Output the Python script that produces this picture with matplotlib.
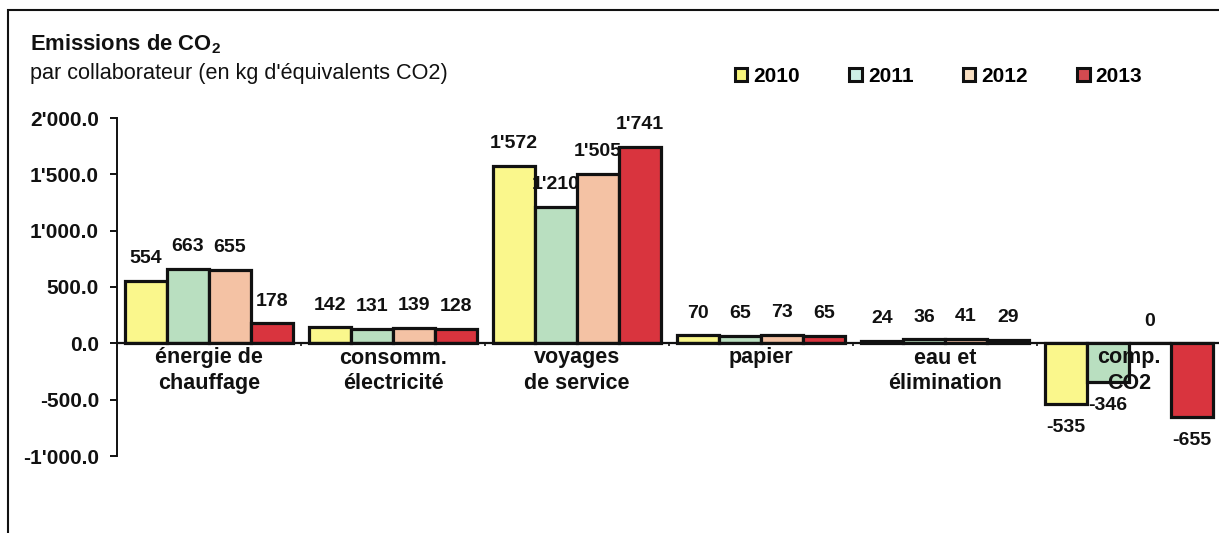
import matplotlib
matplotlib.use("Agg")
import matplotlib.pyplot as plt
from matplotlib.patches import Rectangle
from matplotlib.ticker import FuncFormatter
import numpy as np

categories = ["énergie de\nchauffage", "consomm.\nélectricité", "voyages\nde service",
              "papier", "eau et\nélimination", "comp.\nCO2"]
years = ["2010", "2011", "2012", "2013"]
v2010 = [554, 142, 1572, 70, 24, -535]
v2011 = [663, 131, 1210, 65, 36, -346]
v2012 = [655, 139, 1505, 73, 41, 0]
v2013 = [178, 128, 1741, 65, 29, -655]
series = [v2010, v2011, v2012, v2013]
colors = ["#FAF78C", "#B9DFC0", "#F4C2A4", "#D9343E"]
legend_colors = ["#F6F47A", "#CDEFE6", "#F8DEC0", "#D24A50"]

plt.rcParams['font.family'] = ['Liberation Sans', 'DejaVu Sans']
plt.rcParams['mathtext.fontset'] = 'custom'
plt.rcParams['mathtext.rm'] = 'Liberation Sans'
plt.rcParams['mathtext.bf'] = 'Liberation Sans:bold'

W, H = 1219, 533
fig = plt.figure(figsize=(W/100, H/100), dpi=100)

# axes: y axis at x=117px, 184px per group, 2000 at 118px, -1000 at 456px from top
ax = fig.add_axes([117/W, (H-456)/H, 6*184/W, 338/H])
ax.set_xlim(-0.5, 5.5)
ax.set_ylim(-1000, 2000)

x = np.arange(len(categories))
bw = 42/184
for j, (vals, c) in enumerate(zip(series, colors)):
    xs = x + (j - 1.5)*bw
    ax.bar(xs, vals, bw, color=c, edgecolor='#111111', linewidth=2.3, zorder=3)
    for xi, v in zip(xs, vals):
        txt = f"{v:,.0f}".replace(',', "'")
        off = 16 if v >= 0 else -17
        ax.annotate(txt, (xi, v), xytext=(0, off), textcoords='offset points',
                    ha='center', va='center', fontsize=14, fontweight='bold',
                    color='#111111', zorder=5)

ax.axhline(0, color='#111111', lw=1.6, zorder=4)
ax.vlines(x[1:] - 0.5, 0, -25, color='#111111', lw=1.2, zorder=4)

for xi, lab in zip(x, categories):
    ax.annotate(lab, (xi, 0), xytext=(0, -3), textcoords='offset points',
                ha='center', va='top', fontsize=15.5, fontweight='bold',
                linespacing=1.3, color='#111111', zorder=6)

for s in ['top', 'right', 'bottom']:
    ax.spines[s].set_visible(False)
ax.spines['left'].set_linewidth(1.4)
ax.spines['left'].set_color('#111111')
ax.set_xticks([])
ax.set_yticks([-1000, -500, 0, 500, 1000, 1500, 2000])
ax.yaxis.set_major_formatter(FuncFormatter(lambda v, p: f"{v:,.1f}".replace(',', "'")))
ax.tick_params(axis='y', direction='out', length=5, width=1.4, pad=8,
               labelsize=15, colors='#111111')
for t in ax.get_yticklabels():
    t.set_fontweight('bold')
ax.patch.set_alpha(0)

# frame around chart
fig.patches.append(Rectangle((8/W, -0.1), 2, 1.1 - 10/H, transform=fig.transFigure,
                             fill=False, edgecolor='#111111', lw=1.5))

fig.text(30/W, 1 - 44/H, r"Emissions de CO$_\mathbf{2}$", fontsize=15.8, fontweight='bold',
         va='center', ha='left', color='#111111')
fig.text(30/W, 1 - 74/H, "par collaborateur (en kg d'équivalents CO2)", fontsize=15.6,
         va='center', ha='left', color='#111111')

handles = [Rectangle((0, 0), 1, 1, facecolor=c, edgecolor='#111111', lw=2.2) for c in legend_colors]
fig.legend(handles, years, loc='center left', bbox_to_anchor=(735/W, 1 - 76/H), ncol=4,
           frameon=False, borderpad=0, borderaxespad=0, handlelength=0.6, handleheight=0.6,
           handletextpad=0.3, columnspacing=2.35,
           prop={'weight': 'bold', 'size': 15})

fig.savefig("out.png", dpi=100, facecolor='white')
